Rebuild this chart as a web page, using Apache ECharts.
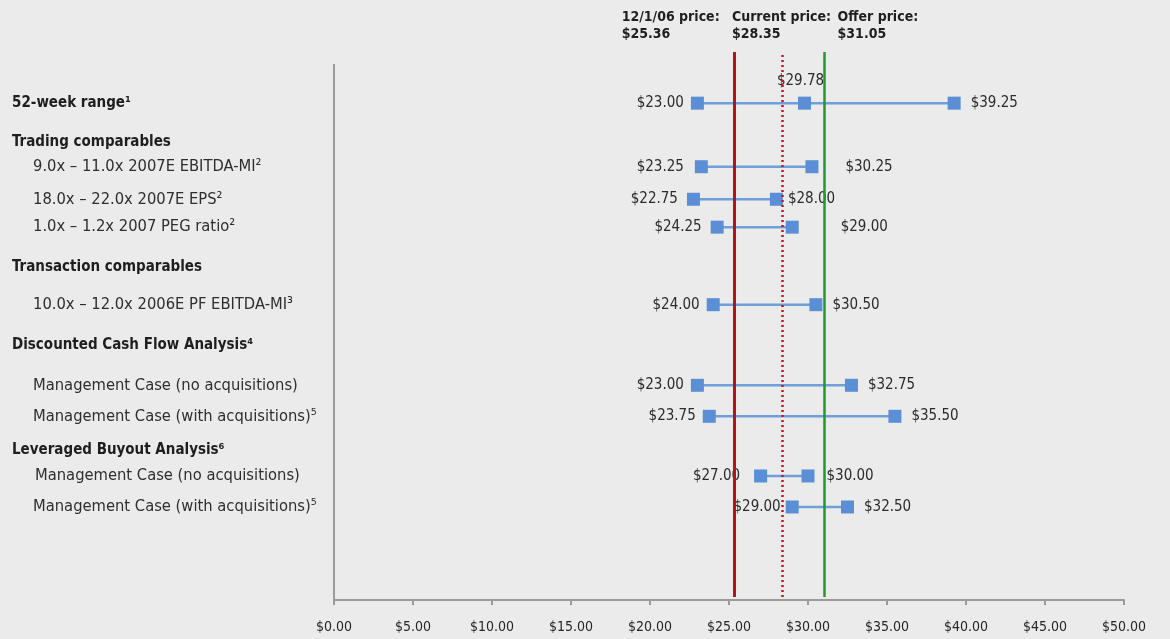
<!DOCTYPE html>
<html>
<head>
<meta charset="utf-8">
<script src="https://cdn.jsdelivr.net/npm/echarts@6/dist/echarts.min.js"></script>
<style>
html,body{margin:0;padding:0;background:#ebebeb;}
#chart{width:1170px;height:639px;}
</style>
</head>
<body>
<div id="chart"></div>
<script>
// ---------------- DATA ----------------
const rowLabels = [
  '52-week range\u00B9',
  'Trading comparables',
  '9.0x \u2013 11.0x 2007E EBITDA-MI\u00B2',
  '18.0x \u2013 22.0x 2007E EPS\u00B2',
  '1.0x \u2013 1.2x 2007 PEG ratio\u00B2',
  'Transaction comparables',
  '10.0x \u2013 12.0x 2006E PF EBITDA-MI\u00B3',
  'Discounted Cash Flow Analysis\u2074',
  'Management Case (no acquisitions)',
  'Management Case (with acquisitions)\u2075',
  'Leveraged Buyout Analysis\u2076',
  'Management Case (no acquisitions)',
  'Management Case (with acquisitions)\u2075'
];
const rowKind = ['group','group','item','item','item','group','item','group','item','item','group','item','item'];
const lowValues  = [23.00, null, 23.25, 22.75, 24.25, null, 24.00, null, 23.00, 23.75, null, 27.00, 29.00];
const highValues = [39.25, null, 30.25, 28.00, 29.00, null, 30.50, null, 32.75, 35.50, null, 30.00, 32.50];
const midValues  = [29.78, null, null,  null,  null,  null, null,  null, null,  null,  null, null,  null];
const priceNames  = ['12/1/06 price:', 'Current price:', 'Offer price:'];
const priceValues = [25.36, 28.35, 31.05];
const xTicks = [0, 5, 10, 15, 20, 25, 30, 35, 40, 45, 50];

// ---------------- LAYOUT (not data) ----------------
const rowSlot = [0, 2.5, 4.1, 6.2, 8.0, 10.6, 13.0, 15.6, 18.2, 20.2, 22.4, 24.05, 26.05];
const itemIndent = [12, 12, 33, 33, 33, 12, 33, 12, 33, 33, 12, 35, 33];
const lowNudge  = [0, 0, -4, -2, -2, 0, 0, 0, 0, 0, 0, -7, 2];
const highNudge = [0, 0, 17, -5, 32, 0, 0, 0, 0, 0, 0, 2, 0];
const priceTextOffset = [-113, -50, 13];
const priceStyles = [
  {color:'#b3141c', width:3, type:'solid'},
  {color:'#c4161f', width:2.5, type:[2,3]},
  {color:'#219a29', width:2.5, type:'solid'}
];
const FONT = '"DejaVu Sans Condensed", "DejaVu Sans", sans-serif';
const Y_MIN = -3.3, Y_MAX = 32.05;

const rangeData = [];
rowLabels.forEach((l, i) => {
  if (lowValues[i] != null) {
    rangeData.push([rowSlot[i], lowValues[i], highValues[i], midValues[i] == null ? NaN : midValues[i], lowNudge[i], highNudge[i]]);
  }
});
const fmt = v => '$' + v.toFixed(2);

const chart = echarts.init(document.getElementById('chart'), null, {renderer:'canvas'});
const option = {
  backgroundColor: '#ebebeb',
  animation: false,
  grid: {left: 334, right: 46, top: 52, bottom: 39},
  xAxis: {
    type: 'value', min: xTicks[0], max: xTicks[xTicks.length-1], interval: xTicks[1]-xTicks[0],
    axisLine: {show: true, onZero: false, lineStyle: {color: '#9b9b9b', width: 2}},
    axisTick: {show: true, length: 5, lineStyle: {color: '#9b9b9b', width: 2}},
    splitLine: {show: false},
    axisLabel: {formatter: v => fmt(v), color: '#262626', fontSize: 14, fontFamily: FONT, margin: 20}
  },
  yAxis: {type: 'value', inverse: true, min: Y_MIN, max: Y_MAX, show: false},
  series: [
    {
      type: 'line', data: [], silent: true, z: 1,
      markLine: {
        silent: true, symbol: ['none','none'], label: {show: false},
        lineStyle: {color: '#9b9b9b', width: 2, type: 'solid'},
        data: [[{coord: [0, -2.52]}, {coord: [0, Y_MAX]}]]
      }
    },
    {
      type: 'custom', z: 3, clip: false,
      data: rangeData,
      encode: {x: [1, 2], y: 0},
      renderItem: function (params, api) {
        const y = api.value(0), lo = api.value(1), hi = api.value(2), mid = api.value(3);
        const nl = api.value(4), nh = api.value(5);
        const pL = api.coord([lo, y]), pH = api.coord([hi, y]);
        const s = 13;
        const sq = (p) => ({type: 'rect', shape: {x: p[0]-s/2, y: p[1]-s/2, width: s, height: s}, style: {fill: '#5b8fd5'}});
        const txt = (x, yy, t, align) => ({type: 'text', x: x, y: yy, style: {text: t, fill: '#2b2b2b', font: '15px ' + FONT, align: align, verticalAlign: 'middle'}});
        const ch = [
          {type: 'line', shape: {x1: pL[0], y1: pL[1], x2: pH[0], y2: pH[1]}, style: {stroke: '#6e9fd9', lineWidth: 2.5}},
          sq(pL), sq(pH),
          txt(pL[0]-s/2-7+nl, pL[1], fmt(lo), 'right'),
          txt(pH[0]+s/2+10+nh, pH[1], fmt(hi), 'left')
        ];
        if (!isNaN(mid)) {
          const pM = api.coord([mid, y]);
          ch.push(sq(pM));
          ch.push(txt(pM[0]-4, pM[1]-22, fmt(mid), 'center'));
        }
        return {type: 'group', children: ch};
      }
    },
    {
      type: 'line', data: [], silent: true, z: 5,
      markLine: {
        silent: true, symbol: ['none','none'], label: {show: false},
        data: priceValues.map((p, i) => [
          {coord: [p, 31.85], lineStyle: priceStyles[i]},
          {coord: [p, Y_MIN]}
        ])
      }
    }
  ]
};
chart.setOption(option);

// text annotations positioned through the chart's scales
const graphics = [];
rowLabels.forEach((l, i) => {
  const py = chart.convertToPixel({yAxisIndex: 0}, rowSlot[i]);
  const isGroup = rowKind[i] === 'group';
  graphics.push({
    type: 'text', x: itemIndent[i], y: py, silent: true,
    style: {text: l, fill: isGroup ? '#1e1e1e' : '#2e2e2e',
      font: (isGroup ? 'bold 15px ' : '16.4px ') + FONT, verticalAlign: 'middle', align: 'left'}
  });
});
priceValues.forEach((p, i) => {
  const px = chart.convertToPixel({xAxisIndex: 0}, p);
  graphics.push({type: 'text', x: px + priceTextOffset[i], y: 17, silent: true,
    style: {text: priceNames[i], fill: '#1e1e1e', font: 'bold 14px ' + FONT, verticalAlign: 'middle', align: 'left'}});
  graphics.push({type: 'text', x: px + priceTextOffset[i], y: 34, silent: true,
    style: {text: fmt(p), fill: '#1e1e1e', font: 'bold 14px ' + FONT, verticalAlign: 'middle', align: 'left'}});
});
chart.setOption({graphic: graphics});
</script>
</body>
</html>
